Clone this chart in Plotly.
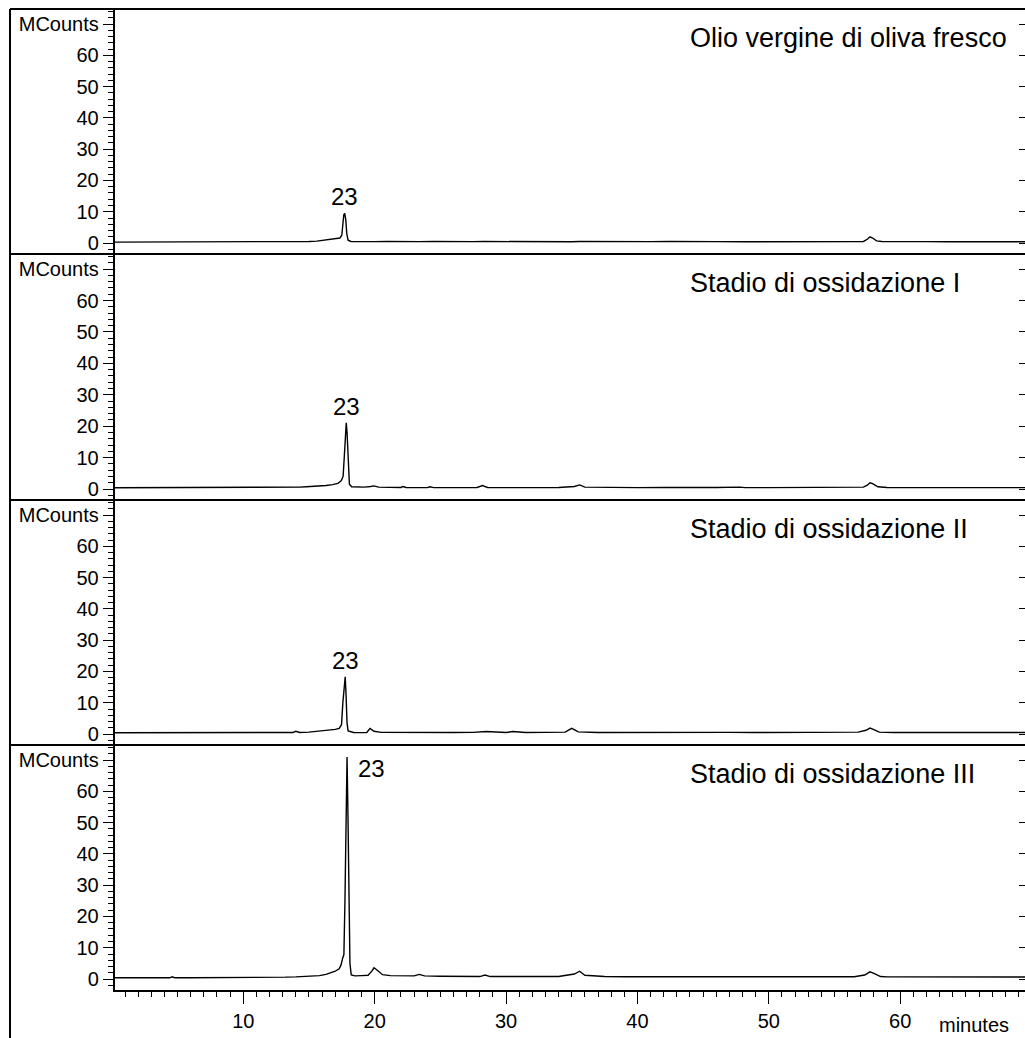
import plotly.graph_objects as go

# ---- chromatogram data (retention time in minutes, signal in MCounts) ----
t_fresco = [0.2, 1.0, 2.5, 3.0, 4.5, 4.6, 4.8, 6.0, 7.5, 8.8,
            9.0, 9.3, 9.6, 10.2, 11.0, 11.3, 11.6, 12.5, 13.5, 14.3,
            15.0, 15.6, 16.0, 16.4, 16.8, 17.1, 17.35, 17.5, 17.58, 17.65,
            17.72, 17.8, 17.88, 17.98, 18.2, 18.6, 19.2, 20.0, 21.0, 22.2,
            23.4, 24.5, 26.0, 27.5, 28.3, 29.5, 31.0, 33.0, 35.0, 35.6,
            37.0, 39.0, 41.0, 42.5, 44.0, 46.0, 48.0, 50.0, 52.0, 54.0,
            55.5, 56.5, 57.2, 57.5, 57.7, 57.9, 58.2, 58.6, 60.0, 62.0,
            63.5, 65.0, 66.5, 68.0, 69.5]
y_fresco = [0.3, 0.3, 0.3, 0.35, 0.3, 0.5, 0.3, 0.3, 0.3, 0.35,
            0.5, 0.3, 0.45, 0.3, 0.35, 0.5, 0.3, 0.35, 0.4, 0.45,
            0.5, 0.6, 0.8, 1.1, 1.3, 1.4, 1.6, 2.5, 6.0, 9.0,
            9.5, 7.5, 3.0, 0.9, 0.5, 0.45, 0.5, 0.45, 0.5, 0.4,
            0.45, 0.5, 0.4, 0.45, 0.5, 0.45, 0.4, 0.45, 0.4, 0.5,
            0.45, 0.4, 0.45, 0.5, 0.4, 0.45, 0.4, 0.4, 0.45, 0.4,
            0.5, 0.45, 0.5, 1.2, 2.0, 1.6, 0.7, 0.5, 0.4, 0.45,
            0.4, 0.4, 0.45, 0.4, 0.4]

t_stadio1 = [0.2, 1.5, 3.0, 4.5, 6.0, 7.5, 9.0, 9.5, 10.5, 12.0,
             13.0, 14.3, 14.8, 15.3, 15.8, 16.3, 16.8, 17.2, 17.45, 17.6,
             17.7, 17.78, 17.84, 17.9, 17.98, 18.08, 18.25, 18.6, 19.2, 19.7,
             19.95, 20.3, 21.0, 22.0, 22.15, 22.4, 24.0, 24.2, 24.5, 26.0,
             27.8, 28.2, 28.6, 30.0, 32.0, 34.0, 35.2, 35.6, 36.0, 38.0,
             40.0, 42.0, 44.0, 46.0, 47.8, 48.2, 50.0, 52.0, 54.0, 56.0,
             57.2, 57.5, 57.7, 57.9, 58.3, 59.0, 61.0, 63.0, 65.0, 67.0, 69.5]
y_stadio1 = [0.4, 0.4, 0.4, 0.4, 0.45, 0.4, 0.45, 0.5, 0.4, 0.4,
             0.45, 0.6, 0.7, 0.8, 0.9, 1.1, 1.4, 1.8, 2.6, 4.0,
             11.0, 19.5, 21.1, 18.0, 8.0, 1.5, 0.7, 0.6, 0.6, 0.8,
             1.0, 0.6, 0.55, 0.5, 0.8, 0.5, 0.45, 0.7, 0.45, 0.45,
             0.5, 1.1, 0.5, 0.45, 0.45, 0.5, 0.8, 1.3, 0.6, 0.45,
             0.45, 0.5, 0.45, 0.5, 0.6, 0.45, 0.45, 0.45, 0.45, 0.5,
             0.6, 1.2, 2.0, 1.7, 0.7, 0.5, 0.45, 0.45, 0.45, 0.45, 0.45]

t_stadio2 = [0.2, 1.5, 3.0, 4.5, 6.0, 7.5, 9.0, 10.5, 12.0, 13.0,
             13.8, 14.0, 14.3, 15.0, 15.8, 16.2, 16.6, 17.0, 17.3, 17.48,
             17.58, 17.64, 17.7, 17.76, 17.82, 17.9, 17.98, 18.1, 18.4, 19.0,
             19.4, 19.65, 19.95, 20.5, 21.5, 23.0, 24.5, 26.0, 27.5, 28.5,
             30.0, 30.5, 31.5, 33.0, 34.5, 35.0, 35.5, 37.0, 39.0, 41.0,
             43.0, 45.0, 47.0, 49.0, 51.0, 53.0, 55.0, 56.8, 57.4, 57.7,
             58.0, 58.4, 59.5, 61.0, 63.0, 65.0, 67.0, 69.5]
y_stadio2 = [0.4, 0.4, 0.45, 0.4, 0.4, 0.45, 0.4, 0.4, 0.45, 0.4,
             0.5, 0.9, 0.5, 0.6, 0.9, 1.2, 1.3, 1.5, 1.8, 3.0,
             10.0, 12.6, 14.0, 18.3, 13.0, 3.5, 1.0, 0.8, 0.5, 0.45,
             0.5, 1.8, 0.9, 0.55, 0.5, 0.55, 0.5, 0.5, 0.55, 0.8,
             0.5, 0.8, 0.5, 0.55, 0.6, 1.8, 0.7, 0.5, 0.55, 0.5,
             0.55, 0.5, 0.55, 0.5, 0.55, 0.5, 0.55, 0.6, 1.2, 1.9,
             1.4, 0.6, 0.5, 0.5, 0.55, 0.5, 0.5, 0.5]

t_stadio3 = [0.2, 1.5, 3.0, 4.4, 4.6, 4.8, 6.0, 7.5, 8.5, 9.0,
             9.4, 9.8, 10.5, 11.2, 11.6, 12.0, 12.6, 13.2, 14.0, 14.6,
             15.2, 15.8, 16.3, 16.7, 17.0, 17.3, 17.45, 17.56, 17.66, 17.74,
             17.82, 17.9, 17.97, 18.04, 18.12, 18.22, 18.5, 19.0, 19.5, 19.8,
             19.95, 20.2, 20.6, 21.2, 22.0, 23.0, 23.4, 23.8, 25.0, 26.5,
             28.0, 28.4, 28.8, 30.0, 32.0, 34.0, 35.2, 35.6, 36.0, 37.5,
             39.0, 41.0, 43.0, 45.0, 47.0, 49.0, 51.0, 53.0, 55.0, 56.5,
             57.3, 57.7, 58.0, 58.5, 59.0, 60.5, 62.0, 64.0, 66.0, 68.0, 69.5]
y_stadio3 = [0.4, 0.4, 0.4, 0.4, 0.7, 0.4, 0.4, 0.4, 0.45, 0.6,
             0.5, 0.6, 0.45, 0.6, 0.5, 0.55, 0.55, 0.6, 0.7, 0.8,
             0.9, 1.1, 1.5, 2.0, 2.5, 3.3, 4.6, 6.6, 7.8, 25.0,
             55.0, 71.0, 52.0, 22.0, 5.0, 1.3, 1.0, 1.1, 1.2, 2.6,
             3.6, 2.8, 1.4, 1.1, 1.0, 1.0, 1.5, 1.0, 0.9, 0.8,
             0.8, 1.3, 0.8, 0.8, 0.75, 0.8, 1.6, 2.5, 1.2, 0.8,
             0.75, 0.75, 0.7, 0.75, 0.7, 0.75, 0.7, 0.75, 0.7, 0.75,
             1.3, 2.3, 1.8, 0.8, 0.7, 0.7, 0.7, 0.7, 0.65, 0.65, 0.65]

panel_titles = ["Olio vergine di oliva fresco", "Stadio di ossidazione I",
                "Stadio di ossidazione II", "Stadio di ossidazione III"]
peak_label = "23"
y_tick_vals = [0, 10, 20, 30, 40, 50, 60, 70]
y_tick_text = ["0", "10", "20", "30", "40", "50", "60", "MCounts"]
x_tick_vals = [10, 20, 30, 40, 50, 60]
x_title = "minutes"

series = [(t_fresco, y_fresco), (t_stadio1, y_stadio1),
          (t_stadio2, y_stadio2), (t_stadio3, y_stadio3)]

# ---- page geometry (pixels) ----
W, H = 1025, 1038
FONT = "Liberation Sans, Arial, Helvetica, sans-serif"
plot_left = 114.5
panel_tops = [9, 254, 500, 745]
panel_bottom = 990
frame_left = 10
y_range = [-3.5, 74.8]
x_range = [0.2, 69.5]


def py(px):
    """pixel row -> paper fraction"""
    return 1 - px / H


fig = go.Figure()
layout = dict(
    width=W, height=H,
    margin=dict(l=0, r=0, t=0, b=0),
    paper_bgcolor="white", plot_bgcolor="white",
    showlegend=False,
    font=dict(family=FONT, color="black", size=20),
)

layout["xaxis"] = dict(
    domain=[plot_left / W, 1], anchor="y4", range=x_range,
    tickmode="array", tickvals=x_tick_vals,
    ticks="outside", ticklen=12, tickwidth=1.2, tickcolor="black",
    minor=dict(ticks="outside", ticklen=5, tickwidth=1.2, tickcolor="black",
               tickmode="linear", tick0=0, dtick=1),
    showline=True, linecolor="black", linewidth=2,
    showgrid=False, zeroline=False,
    tickfont=dict(family=FONT, size=20, color="black"),
)

bottoms = panel_tops[1:] + [panel_bottom]
for i, (t, y) in enumerate(series):
    k = i + 1
    yname = "y" if k == 1 else f"y{k}"
    ykey = "yaxis" if k == 1 else f"yaxis{k}"
    dom = [py(bottoms[i]), py(panel_tops[i])]
    layout[ykey] = dict(
        domain=dom, anchor="x", range=y_range,
        tickmode="array", tickvals=y_tick_vals, ticktext=y_tick_text,
        ticks="outside", ticklen=10, tickwidth=1.2, tickcolor="black",
        minor=dict(ticks="outside", ticklen=5, tickwidth=1, tickcolor="black",
                   tickmode="linear", tick0=0, dtick=2),
        showline=True, linecolor="black", linewidth=1.5,
        showgrid=False, zeroline=False,
        tickfont=dict(family=FONT, size=20, color="black"),
    )
    # short tick marks along the right edge of each panel
    rk = k + 4
    rname = f"y{rk}"
    layout[f"yaxis{rk}"] = dict(
        overlaying=yname, side="right", anchor="x", range=y_range,
        tickmode="array", tickvals=y_tick_vals,
        ticks="inside", ticklen=6, tickwidth=1.3, tickcolor="black",
        showticklabels=False, showline=False, showgrid=False, zeroline=False,
    )

    fig.add_trace(go.Scatter(
        x=t, y=y, xaxis="x", yaxis=yname, mode="lines",
        line=dict(color="black", width=1.4), hoverinfo="skip",
    ))
    # empty trace so the right-hand tick axis is instantiated
    fig.add_trace(go.Scatter(
        x=[None], y=[None], xaxis="x", yaxis=rname, mode="lines",
        hoverinfo="skip",
    ))

# frame: panel separators and outer left border
shapes = []
for top in panel_tops:
    shapes.append(dict(type="line", xref="paper", yref="paper",
                       x0=frame_left / W, x1=1, y0=py(top), y1=py(top),
                       line=dict(color="black", width=2)))
shapes.append(dict(type="line", xref="paper", yref="paper",
                   x0=frame_left / W, x1=frame_left / W, y0=py(panel_tops[0]), y1=0,
                   line=dict(color="black", width=2)))
layout["shapes"] = shapes

annotations = []
for i, (t, y) in enumerate(series):
    k = i + 1
    yname = "y" if k == 1 else f"y{k}"
    # panel title
    annotations.append(dict(
        text=panel_titles[i], xref="paper", yref="paper",
        x=688 / W, y=py(panel_tops[i] + 29), xanchor="left", yanchor="middle",
        showarrow=False, font=dict(family=FONT, size=27, color="black"),
    ))
    # peak number placed at the apex of the main peak
    j = max(range(len(y)), key=lambda n: y[n])
    if k < 4:
        annotations.append(dict(
            text=peak_label, xref="x", yref=yname, x=t[j], y=y[j],
            xanchor="center", yanchor="bottom", yshift=1, showarrow=False,
            font=dict(family=FONT, size=24, color="black"),
        ))
    else:
        annotations.append(dict(
            text=peak_label, xref="x", yref=yname, x=t[j], y=y[j],
            xanchor="left", yanchor="top", xshift=9, yshift=4, showarrow=False,
            font=dict(family=FONT, size=24, color="black"),
        ))

annotations.append(dict(
    text=x_title, xref="paper", yref="paper", x=974 / W, y=py(1025),
    xanchor="center", yanchor="middle", showarrow=False,
    font=dict(family=FONT, size=20, color="black"),
))
layout["annotations"] = annotations

fig.update_layout(**layout)
fig.write_html("out.html")
